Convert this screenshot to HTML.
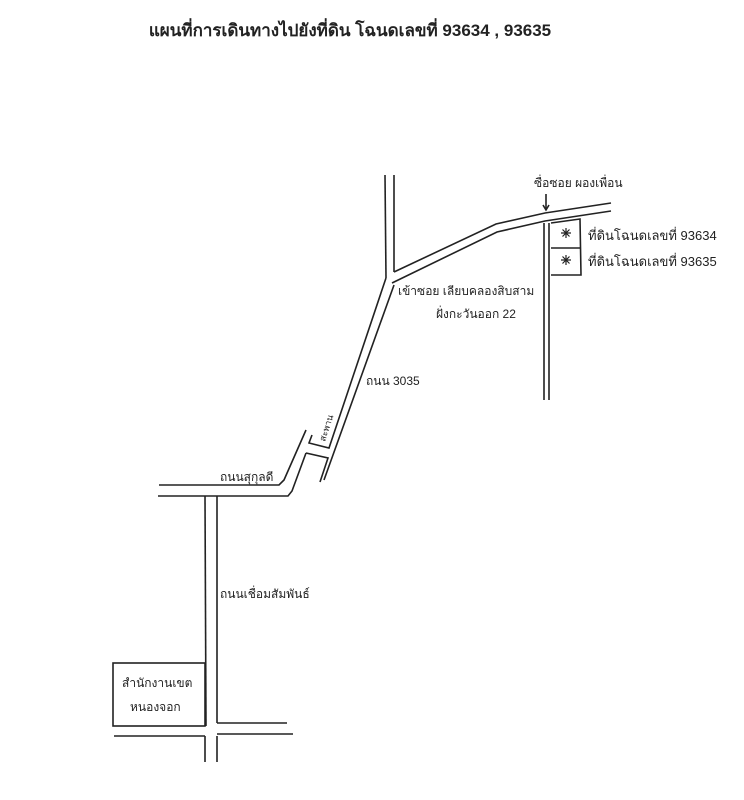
<!DOCTYPE html>
<html><head><meta charset="utf-8"><style>
body{margin:0;background:#fff;width:744px;height:800px;overflow:hidden}
svg{display:block}
text{font-family:"Liberation Sans","Noto Sans CJK SC",sans-serif;fill:#222}
</style></head><body>
<svg width="744" height="800" viewBox="0 0 744 800">
<text x="350" y="36" font-size="17" font-weight="bold" text-anchor="middle" fill="#000">แผนที่การเดินทางไปยังที่ดิน โฉนดเลขที่  93634 , 93635</text>
<g stroke="#222" stroke-width="1.6" fill="none">
<line x1="385" y1="175" x2="386" y2="278"/>
<line x1="394" y1="175" x2="394" y2="272"/>
<polyline points="394,272 496,224 545,213 611,203"/>
<polyline points="392,283 497,232 545,221 611,211"/>
<line x1="544" y1="223" x2="544" y2="400"/>
<line x1="549" y1="223" x2="549" y2="400"/>
<polyline points="551,223 580,219 581,275 551,275"/>
<line x1="551" y1="248" x2="581" y2="248"/>
<!-- road 3035 -->
<polyline points="386,278 329,448 309,443 312,435"/>
<polyline points="394,285 324,480"/>
<polyline points="306,453 328,458 320,482"/>
<!-- sukhumvit + small road -->
<polyline points="159,485 279,485 284,480 306,430"/>
<polyline points="158,496 288,496 292,491 306,453"/>
<line x1="205" y1="496" x2="206" y2="726"/>
<line x1="217" y1="496" x2="217" y2="723"/>
<line x1="205" y1="736" x2="205" y2="762"/>
<line x1="217" y1="736" x2="217" y2="762"/>
<rect x="113" y="663" width="92" height="63"/>
<line x1="114" y1="736" x2="205" y2="736"/>
<line x1="217" y1="723" x2="287" y2="723"/>
<line x1="217" y1="734" x2="293" y2="734"/>
<line x1="546" y1="194" x2="546" y2="209"/>
<polyline points="543,205 546,210 549,205"/>
<!-- asterisks -->
<g stroke-width="1.2">
<path d="M566,228 v10 M561,233 h10 M562.5,229.5 l7,7 M569.5,229.5 l-7,7"/>
<path d="M566,255 v10 M561,260 h10 M562.5,256.5 l7,7 M569.5,256.5 l-7,7"/>
</g>
</g>
<text x="534" y="187" font-size="12">ซื่อซอย ผองเพื่อน</text>
<text x="588" y="240" font-size="13">ที่ดินโฉนดเลขที่  93634</text>
<text x="588" y="266" font-size="13">ที่ดินโฉนดเลขที่  93635</text>
<text x="398" y="295" font-size="12">เข้าซอย เลียบคลองสิบสาม</text>
<text x="436" y="318" font-size="12">ฝั่งกะวันออก 22</text>
<text x="366" y="385" font-size="12">ถนน 3035</text>
<text x="0" y="0" font-size="9" transform="translate(325,442) rotate(-72)">สะพาน</text>
<text x="220" y="481" font-size="12">ถนนสุกุลดี</text>
<text x="220" y="598" font-size="12">ถนนเชื่อมสัมพันธ์</text>
<text x="122" y="687" font-size="12">สำนักงานเขต</text>
<text x="130" y="711" font-size="12">หนองจอก</text>
</svg>
</body></html>
